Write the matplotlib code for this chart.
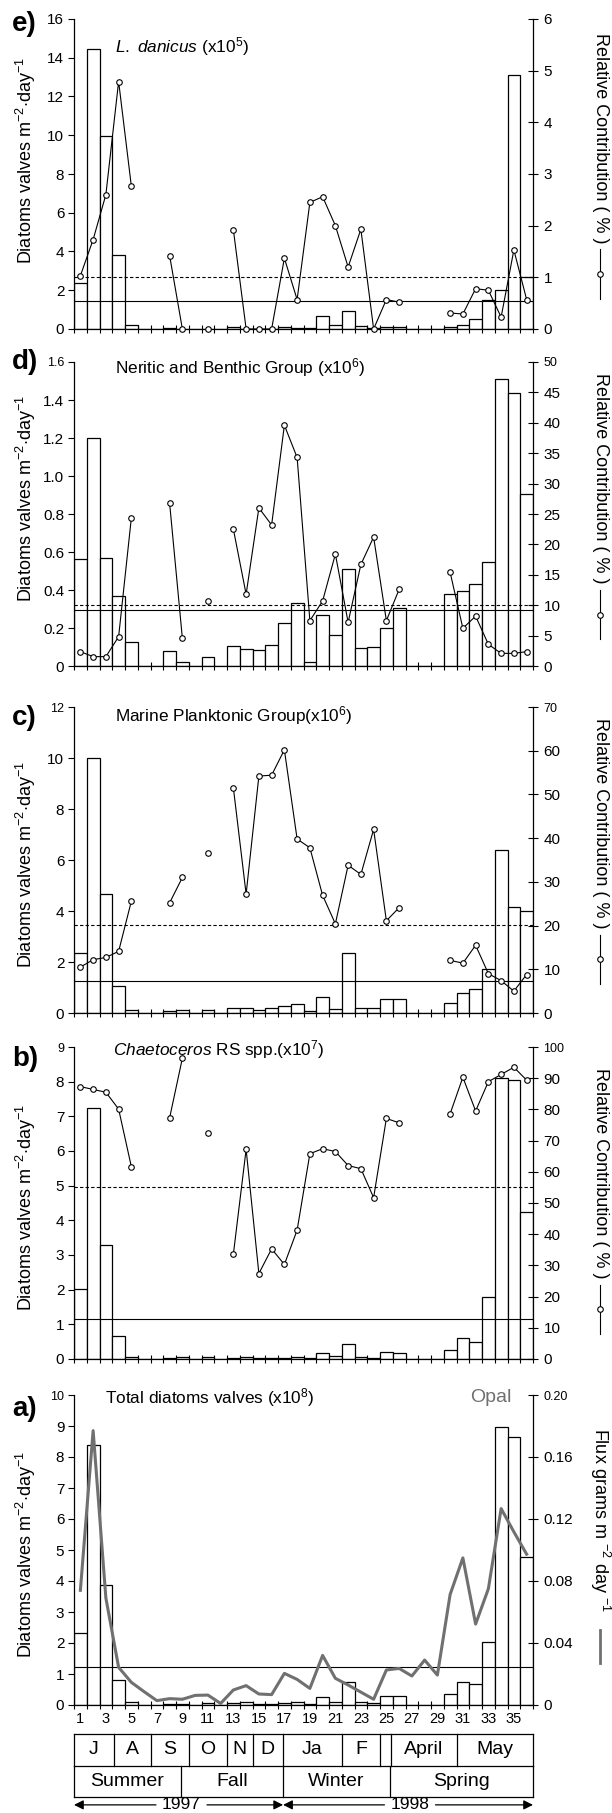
import numpy as np
import matplotlib
matplotlib.use("Agg")
import matplotlib.pyplot as plt
from matplotlib.lines import Line2D

plt.rcParams["font.family"] = ["Liberation Sans", "DejaVu Sans"]
plt.rcParams["mathtext.fontset"] = "custom"
plt.rcParams["mathtext.rm"] = "Liberation Sans"
plt.rcParams["mathtext.it"] = "Liberation Sans:italic"
plt.rcParams["mathtext.bf"] = "Liberation Sans:bold"
plt.rcParams["axes.linewidth"] = 0.9

nan = np.nan
samples = np.arange(1, 37)

# e) Leptocylindrus danicus: flux (x10^5 valves m-2 day-1) and relative contribution (%)
danicus_flux = [2.37, 14.43, 9.97, 3.81, 0.2, 0, 0, 0.05, 0.0, 0, 0, 0,
                0.08, 0.0, 0, 0.0, 0.08, 0.05, 0.05, 0.65, 0.22, 0.91, 0.14, 0.05,
                0.1, 0.1, 0, 0, 0, 0.08, 0.22, 0.52, 1.48, 2.03, 13.13, 2.68]
danicus_pct = [1.03, 1.73, 2.60, 4.79, 2.76, nan, nan, 1.42, 0.0, nan, 0.0, nan,
               1.92, 0.0, 0.0, 0.0, 1.37, 0.57, 2.45, 2.56, 2.0, 1.2, 1.93, 0.0,
               0.57, 0.52, nan, nan, nan, 0.31, 0.29, 0.78, 0.75, 0.23, 1.53, 0.57]
danicus_flux_mean = 1.45
danicus_pct_mean = 1.0

# d) Neritic and benthic group (x10^6)
neritic_flux = [0.561, 1.198, 0.568, 0.370, 0.125, 0, 0, 0.079, 0.019, 0, 0.049, 0,
                0.104, 0.089, 0.084, 0.109, 0.225, 0.33, 0.021, 0.267, 0.161, 0.512, 0.093, 0.098,
                0.202, 0.307, 0, 0, 0, 0.379, 0.395, 0.432, 0.546, 1.51, 1.439, 0.905]
neritic_pct = [2.36, 1.54, 1.54, 4.82, 24.4, nan, nan, 26.75, 4.55, nan, 10.75, nan,
               22.5, 11.8, 26.0, 23.2, 39.6, 34.3, 7.46, 10.7, 18.4, 7.18, 16.7, 21.2,
               7.46, 12.6, nan, nan, nan, 15.4, 6.2, 8.2, 3.56, 2.08, 2.08, 2.36]
neritic_flux_mean = 0.295
neritic_pct_mean = 10.0

# c) Marine planktonic group (x10^6)
marine_flux = [2.37, 10.0, 4.68, 1.06, 0.13, 0, 0, 0.09, 0.13, 0, 0.13, 0,
               0.2, 0.2, 0.13, 0.21, 0.27, 0.35, 0.09, 0.63, 0.16, 2.37, 0.18, 0.18,
               0.55, 0.55, 0, 0, 0, 0.39, 0.80, 0.95, 1.71, 6.38, 4.16, 3.99]
marine_pct = [10.5, 12.2, 12.7, 14.1, 25.6, nan, nan, 25.2, 31.0, nan, 36.5, nan,
              51.5, 27.2, 54.2, 54.4, 60.2, 39.8, 37.8, 26.9, 20.4, 33.8, 31.7, 42.0,
              21.1, 24.1, nan, nan, nan, 12.05, 11.4, 15.5, 9.0, 7.4, 5.0, 8.8]
marine_flux_mean = 1.24
marine_pct_mean = 20.2

# b) Chaetoceros resting spores (x10^7)
chaeto_flux = [2.01, 7.23, 3.28, 0.65, 0.06, 0, 0, 0.04, 0.06, 0, 0.05, 0,
               0.03, 0.06, 0.03, 0.02, 0.02, 0.05, 0.02, 0.17, 0.08, 0.44, 0.06, 0.04,
               0.2, 0.18, 0, 0, 0, 0.27, 0.61, 0.49, 1.79, 8.12, 8.05, 4.23]
chaeto_pct = [87.3, 86.4, 85.5, 80.1, 61.6, nan, nan, 77.3, 96.4, nan, 72.5, nan,
              33.6, 67.2, 27.4, 35.3, 30.3, 41.3, 65.8, 67.4, 66.5, 62.0, 61.0, 51.7,
              77.1, 75.7, nan, nan, nan, 78.6, 90.3, 79.5, 88.9, 91.2, 93.5, 89.4]
chaeto_flux_mean = 1.14
chaeto_pct_mean = 55.0

# a) Total diatom valves (x10^8) and opal flux (g m-2 day-1)
total_flux = [2.31, 8.40, 3.86, 0.82, 0.09, 0, 0, 0.04, 0.03, 0, 0.05, 0,
              0.05, 0.09, 0.04, 0.04, 0.08, 0.11, 0.03, 0.27, 0.11, 0.75, 0.09, 0.05,
              0.30, 0.28, 0, 0, 0, 0.34, 0.73, 0.67, 2.03, 8.96, 8.66, 4.76]
opal_flux = [0.074, 0.177, 0.069, 0.0243, 0.0146, 0.0086, 0.0028, 0.0041, 0.0037, 0.0062, 0.0064, 0.001,
             0.0097, 0.0125, 0.0071, 0.0067, 0.0204, 0.0165, 0.0107, 0.032, 0.0172, 0.0129, 0.0083, 0.0037,
             0.0226, 0.0236, 0.0187, 0.029, 0.0193, 0.0713, 0.0949, 0.0522, 0.075, 0.1267, 0.1117, 0.0973]
total_flux_mean = 1.235

# calendar strip
month_names = ["J", "A", "S", "O", "N", "D", "Ja", "F", "", "April", "May"]
month_edges = [0.5, 3.6, 6.5, 9.5, 12.5, 14.5, 16.9, 21.5, 24.5, 25.4, 30.5, 36.5]
season_names = ["Summer", "Fall", "Winter", "Spring"]
season_edges = [0.5, 8.86, 16.9, 25.3, 36.5]
year_names = ["1997", "1998"]

W, H = 612, 1813
fig = plt.figure(figsize=(W / 100, H / 100), dpi=100)


def fx(px):
    return px / W


def fy(py):
    return 1 - py / H


AX_LEFT, AX_RIGHT = 74, 533
TICK_FS = 11
TOP_FS = 9
YLABEL = "Diatoms valves m$^{-2}$$\\cdot$day$^{-1}$"


def panel(top, bottom, flux, lticks, llabels, rticks, rlabels, flux_mean,
          pct=None, pct_mean=None, opal=None):
    ax = fig.add_axes([fx(AX_LEFT), fy(bottom), fx(AX_RIGHT - AX_LEFT), (bottom - top) / H])
    ax.bar(samples, flux, width=1.0, color="white", edgecolor="black", linewidth=0.9, zorder=2)
    ax.axhline(flux_mean, color="black", lw=0.8, zorder=3)
    ax.set_xlim(0.5, 36.5)
    ax.set_ylim(lticks[0], lticks[-1])
    ax.set_yticks(lticks)
    ax.set_yticklabels(llabels)
    ax.set_xticks(np.arange(0.5, 37, 1.0))
    ax.set_xticklabels([])
    ax.tick_params(axis="x", direction="inout", length=6, width=0.8)
    ax.tick_params(axis="y", direction="out", length=4, width=0.8, labelsize=TICK_FS, pad=3)
    ax.spines["top"].set_visible(False)
    ax.spines["right"].set_visible(False)

    ax2 = ax.twinx()
    ax2.set_ylim(rticks[0], rticks[-1])
    ax2.set_yticks(rticks)
    ax2.set_yticklabels(rlabels)
    ax2.tick_params(axis="y", direction="inout", length=7, width=0.8, labelsize=TICK_FS, pad=4)
    for s in ("top", "left", "bottom"):
        ax2.spines[s].set_visible(False)
    if pct is not None:
        ax2.plot(samples, pct, color="black", lw=0.8, marker="o", ms=4, mfc="white",
                 mec="black", mew=0.8, zorder=4, clip_on=False)
        ax2.axhline(pct_mean, color="black", lw=0.8, ls=(0, (3, 2)), zorder=3)
    if opal is not None:
        ax2.plot(samples, opal, color="#707070", lw=2.2, zorder=4, clip_on=False)
    return ax, ax2


def fmt(vals, nd):
    return ["0" if v == 0 else f"{v:.{nd}f}" for v in vals]


specs = [
    dict(top=19, bottom=329, flux=danicus_flux, lt=np.arange(0, 17, 2), lnd=0,
         rt=np.arange(0, 7, 1), rnd=0, fm=danicus_flux_mean, pct=danicus_pct, pm=danicus_pct_mean,
         letter="e)", letter_y=24, title="$\\mathit{L.\\ danicus}$ (x10$^{5}$)", title_x=115, title_y=47,
         ylab_y=160, rlab_top=33),
    dict(top=362, bottom=666, flux=neritic_flux, lt=np.round(np.arange(0, 1.61, 0.2), 1), lnd=1,
         rt=np.arange(0, 51, 5), rnd=0, fm=neritic_flux_mean, pct=neritic_pct, pm=neritic_pct_mean,
         letter="d)", letter_y=362, title="Neritic and Benthic Group (x10$^{6}$)", title_x=115, title_y=368,
         ylab_y=498, rlab_top=373),
    dict(top=707, bottom=1013, flux=marine_flux, lt=np.arange(0, 13, 2), lnd=0,
         rt=np.arange(0, 71, 10), rnd=0, fm=marine_flux_mean, pct=marine_pct, pm=marine_pct_mean,
         letter="c)", letter_y=718, title="Marine Planktonic Group(x10$^{6}$)", title_x=115, title_y=716,
         ylab_y=864, rlab_top=718),
    dict(top=1047, bottom=1359, flux=chaeto_flux, lt=np.arange(0, 10, 1), lnd=0,
         rt=np.arange(0, 101, 10), rnd=0, fm=chaeto_flux_mean, pct=chaeto_pct, pm=chaeto_pct_mean,
         letter="b)", letter_y=1059, title="$\\mathit{Chaetoceros}$ RS spp.(x10$^{7}$)", title_x=113,
         title_y=1050, ylab_y=1207, rlab_top=1068),
]

right_labels = []
for sp in specs:
    ax, ax2 = panel(sp["top"], sp["bottom"], sp["flux"], sp["lt"], fmt(sp["lt"], sp["lnd"]),
                    sp["rt"], fmt(sp["rt"], sp["rnd"]), sp["fm"], pct=sp["pct"], pct_mean=sp["pm"])
    if sp["letter"] != "e)":
        ax.get_yticklabels()[-1].set_fontsize(TOP_FS)
        ax2.get_yticklabels()[-1].set_fontsize(TOP_FS)
    fig.text(fx(12), fy(sp["letter_y"]), sp["letter"], fontsize=20, fontweight="bold", ha="left", va="center")
    fig.text(fx(sp["title_x"]), fy(sp["title_y"]), sp["title"], fontsize=12.4, ha="left", va="center")
    fig.text(fx(26), fy(sp["ylab_y"]), YLABEL, fontsize=13, rotation=90, ha="center", va="center")
    t = fig.text(fx(600), fy(sp["rlab_top"]), "Relative Contribution ( % )", fontsize=13,
                 rotation=270, ha="center", va="top")
    right_labels.append((t, "pct"))

# a) total diatoms with opal flux
opal_ticks = np.array([0, 0.04, 0.08, 0.12, 0.16, 0.20])
ax, ax2 = panel(1395, 1705, total_flux, np.arange(0, 11, 1), fmt(np.arange(0, 11, 1), 0),
                opal_ticks, fmt(opal_ticks, 2), total_flux_mean, opal=opal_flux)
ax.get_yticklabels()[-1].set_fontsize(TOP_FS)
ax2.get_yticklabels()[-1].set_fontsize(TOP_FS)
odd = np.arange(1, 36, 2)
ax.set_xticks(odd, minor=True)
ax.set_xticklabels([str(v) for v in odd], minor=True)
ax.tick_params(axis="x", which="minor", length=0, labelsize=10.5, pad=5)
fig.text(fx(12), fy(1409), "a)", fontsize=20, fontweight="bold", ha="left", va="center")
fig.text(fx(105), fy(1398), "Total diatoms valves (x10$^{8}$)", fontsize=12.4, ha="left", va="center")
fig.text(fx(470), fy(1398), "Opal", fontsize=14, color="#707070", ha="left", va="center")
fig.text(fx(26), fy(1554), YLABEL, fontsize=13, rotation=90, ha="center", va="center")
t = fig.text(fx(600), fy(1428), "Flux grams m $^{-2}$ day $^{-1}$", fontsize=13,
             rotation=270, ha="center", va="top")
right_labels.append((t, "opal"))

# calendar strip below the panels
axt = fig.add_axes([fx(AX_LEFT), fy(1797), fx(AX_RIGHT - AX_LEFT), 63 / H])
axt.set_xlim(0.5, 36.5)
axt.set_ylim(0, 2)
axt.axis("off")
lk = dict(color="black", lw=0.9, clip_on=False)
for yv in (0, 1, 2):
    axt.plot([0.5, 36.5], [yv, yv], **lk)
for xv in month_edges:
    axt.plot([xv, xv], [1, 2], **lk)
for xv in season_edges:
    axt.plot([xv, xv], [0, 1], **lk)
for i, name in enumerate(month_names):
    axt.text((month_edges[i] + month_edges[i + 1]) / 2, 1.5, name, fontsize=14, ha="center", va="center")
for i, name in enumerate(season_names):
    axt.text((season_edges[i] + season_edges[i + 1]) / 2, 0.5, name, fontsize=14, ha="center", va="center")

year_y = -0.25
year_split = 16.9
for name, xc, x0, x1 in [(year_names[0], 8.93, 0.5, year_split), (year_names[1], 26.85, year_split, 36.5)]:
    axt.text(xc, year_y, name, fontsize=12.5, ha="center", va="center", clip_on=False)
    ap = dict(arrowstyle="-|>", color="black", lw=0.9, mutation_scale=14, shrinkA=0, shrinkB=0)
    axt.annotate("", xy=(x0, year_y), xytext=(xc - 2.0, year_y), arrowprops=ap, annotation_clip=False)
    axt.annotate("", xy=(x1, year_y), xytext=(xc + 2.0, year_y), arrowprops=ap, annotation_clip=False)

# legend keys placed after the rotated right-hand labels
fig.canvas.draw()
renderer = fig.canvas.get_renderer()
inv = fig.transFigure.inverted()
for t, kind in right_labels:
    bb = t.get_window_extent(renderer).transformed(inv)
    xc = fx(600)
    if kind == "pct":
        y0 = bb.y0 - 6 / H
        y1 = y0 - 50 / H
        fig.add_artist(Line2D([xc, xc], [y0, y1], transform=fig.transFigure, color="black", lw=0.8))
        fig.add_artist(Line2D([xc], [(y0 + y1) / 2], transform=fig.transFigure, marker="o", ms=4,
                              mfc="white", mec="black", mew=0.8, ls="none"))
    else:
        y0 = bb.y0 - 18 / H
        y1 = y0 - 33 / H
        fig.add_artist(Line2D([xc, xc], [y0, y1], transform=fig.transFigure, color="#707070", lw=2.0))

fig.savefig("out.png", dpi=100)
